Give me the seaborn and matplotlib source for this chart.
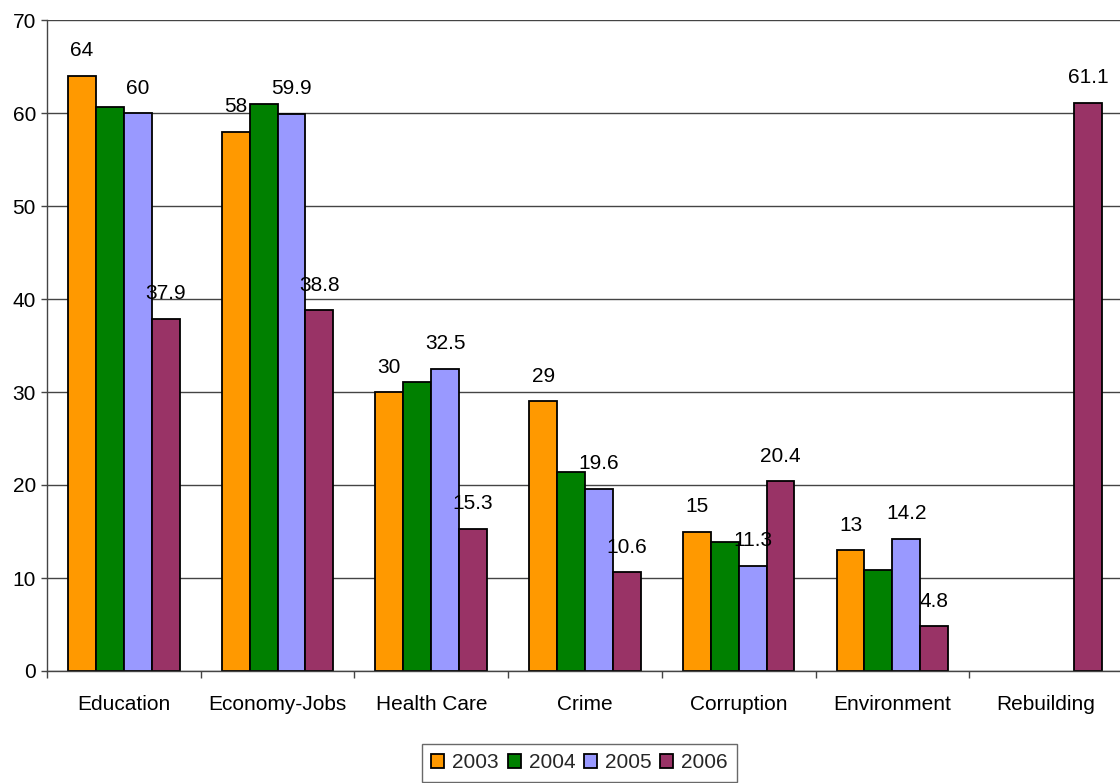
import numpy as np
import pandas as pd
import matplotlib
matplotlib.use("Agg")
import matplotlib.pyplot as plt
import seaborn as sns
from matplotlib.ticker import MultipleLocator, FixedLocator

categories = ["Education", "Economy-Jobs", "Health Care", "Crime", "Corruption", "Environment", "Rebuilding"]
years = ["2003", "2004", "2005", "2006"]
v2003 = [64, 58, 30, 29, 15, 13, np.nan]
v2004 = [60.6, 61, 31.1, 21.4, 13.9, 10.9, np.nan]
v2005 = [60, 59.9, 32.5, 19.6, 11.3, 14.2, np.nan]
v2006 = [37.9, 38.8, 15.3, 10.6, 20.4, 4.8, 61.1]
labeled_years = ["2003", "2005", "2006"]
colors = ["#FF9900", "#008000", "#9999FF", "#993366"]

series = {"2003": v2003, "2004": v2004, "2005": v2005, "2006": v2006}
rows = []
for y in years:
    for c, v in zip(categories, series[y]):
        if not np.isnan(v):
            rows.append({"category": c, "year": y, "value": v})
df = pd.DataFrame(rows)

sns.set_theme(style="white")
plt.rcParams["font.family"] = ["Liberation Sans", "DejaVu Sans"]

W, H = 1120, 783
fig = plt.figure(figsize=(W / 100, H / 100), dpi=100)
ax = fig.add_axes([47 / W, (H - 671) / H, (W - 47) / W, 651 / H])

sns.barplot(data=df, x="category", y="value", hue="year", order=categories,
            hue_order=years, palette=colors, width=0.726, edgecolor="black",
            linewidth=1.3, saturation=1, ax=ax, legend=True, errorbar=None)

ax.set_xlim(-0.5, -0.5 + (W - 47) / 153.7)
ax.set_ylim(0, 70)
ax.yaxis.set_major_locator(MultipleLocator(10))
ax.grid(axis="y", color="#444444", linewidth=1)
ax.set_axisbelow(True)
ax.set_xlabel("")
ax.set_ylabel("")

for s in ["top", "right"]:
    ax.spines[s].set_visible(False)
for s in ["left", "bottom"]:
    ax.spines[s].set_color("#444444")
    ax.spines[s].set_linewidth(1)

ax.tick_params(axis="y", which="major", length=4, width=1, color="#444444",
               labelsize=15, pad=4, labelcolor="black", left=True)
ax.tick_params(axis="x", which="major", length=0, labelsize=15, pad=17.5, labelcolor="black")
ax.xaxis.set_minor_locator(FixedLocator([i - 0.5 for i in range(len(categories) + 1)]))
ax.tick_params(axis="x", which="minor", length=5, width=1, color="#444444", bottom=True)

# value labels
for cont, y in zip(ax.containers, years):
    if y not in labeled_years:
        continue
    for bar in cont:
        h = bar.get_height()
        if np.isnan(h) or h == 0:
            continue
        ax.annotate(f"{h:g}", (bar.get_x() + bar.get_width() / 2, h),
                    xytext=(0, 14), textcoords="offset points",
                    ha="center", va="baseline", fontsize=15, color="black",
                    zorder=5, annotation_clip=False)

leg = ax.legend(loc="upper center", bbox_to_anchor=(579.5 / W, 1 - 744 / H),
                bbox_transform=fig.transFigure, ncol=4, fontsize=15,
                frameon=True, fancybox=False, handlelength=0.62, handleheight=0.62,
                handletextpad=0.38, columnspacing=0.42, borderpad=0.45,
                borderaxespad=0, title=None)
leg.get_frame().set_edgecolor("#444444")
leg.get_frame().set_linewidth(1)
for p in leg.get_patches():
    p.set_edgecolor("black")
    p.set_linewidth(1.3)

fig.savefig("out.png", dpi=100)
